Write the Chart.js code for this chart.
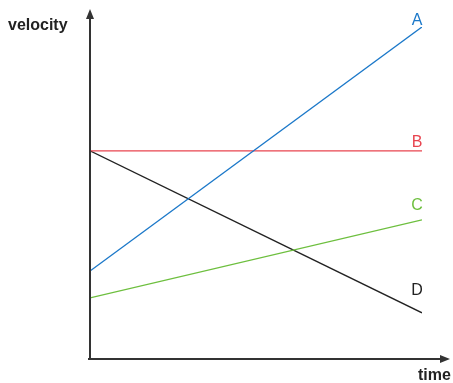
<!DOCTYPE html>
<html>
<head>
<meta charset="utf-8">
<script src="https://cdn.jsdelivr.net/npm/chart.js@4"></script>
<style>
  html, body { margin: 0; padding: 0; background: #fff; }
  #wrap { width: 453px; height: 383px; }
</style>
</head>
<body>
<div id="wrap"><canvas id="chart" width="453" height="383"></canvas></div>
<script>
const seriesNames = ["A", "B", "C", "D"];
const timePoints = [0, 10];
const valuesA = [2.65, 10];
const valuesB = [6.27, 6.27];
const valuesC = [1.84, 4.19];
const valuesD = [6.27, 1.39];
const seriesColors = ["#1b78c9", "#e8444f", "#6dbf3e", "#222222"];
const labelLift = [7, 9, 15, 23];

const allValues = [valuesA, valuesB, valuesC, valuesD];

const arrowAxes = {
    id: "arrowAxes",
    afterDatasetsDraw(chart) {
        const ctx = chart.ctx;
        const area = chart.chartArea;
        ctx.save();
        ctx.strokeStyle = "#333";
        ctx.fillStyle = "#333";
        ctx.lineWidth = 2;
        // y axis
        ctx.beginPath();
        ctx.moveTo(area.left, area.bottom + 1);
        ctx.lineTo(area.left, 16);
        ctx.stroke();
        ctx.beginPath();
        ctx.moveTo(area.left, 9);
        ctx.lineTo(area.left - 4, 19);
        ctx.lineTo(area.left + 4, 19);
        ctx.closePath();
        ctx.fill();
        // x axis
        ctx.beginPath();
        ctx.moveTo(area.left - 2, area.bottom);
        ctx.lineTo(443, area.bottom);
        ctx.stroke();
        ctx.beginPath();
        ctx.moveTo(450, area.bottom);
        ctx.lineTo(440, area.bottom - 4);
        ctx.lineTo(440, area.bottom + 4);
        ctx.closePath();
        ctx.fill();

        ctx.font = "bold 16px 'Liberation Sans', Arial, sans-serif";
        ctx.fillStyle = "#222";
        ctx.textAlign = "left";
        ctx.textBaseline = "middle";
        ctx.fillText("velocity", 8, 26);
        ctx.fillText("time", 418, 376);

        ctx.font = "16px 'Liberation Sans', Arial, sans-serif";
        ctx.textAlign = "center";
        ctx.textBaseline = "bottom";
        chart.data.datasets.forEach((ds, i) => {
            const pts = chart.getDatasetMeta(i).data;
            const last = pts[pts.length - 1];
            ctx.fillStyle = seriesColors[i];
            ctx.fillText(ds.label, last.x - 5, last.y - labelLift[i] + 9);
        });
        ctx.restore();
    }
};

new Chart(document.getElementById("chart").getContext("2d"), {
    type: "line",
    data: {
        datasets: seriesNames.map((name, i) => ({
            label: name,
            data: timePoints.map((t, j) => ({ x: t, y: allValues[i][j] })),
            borderColor: seriesColors[i],
            borderWidth: 1.4,
            pointRadius: 0,
            fill: false,
        })),
    },
    options: {
        responsive: false,
        animation: false,
        layout: {
            padding: { left: 90, right: 31, top: 27, bottom: 24 },
        },
        scales: {
            x: { type: "linear", min: 0, max: 10, display: false },
            y: { min: 0, max: 10, display: false },
        },
        plugins: {
            legend: { display: false },
            tooltip: { enabled: false },
        },
    },
    plugins: [arrowAxes],
});
</script>
</body>
</html>
